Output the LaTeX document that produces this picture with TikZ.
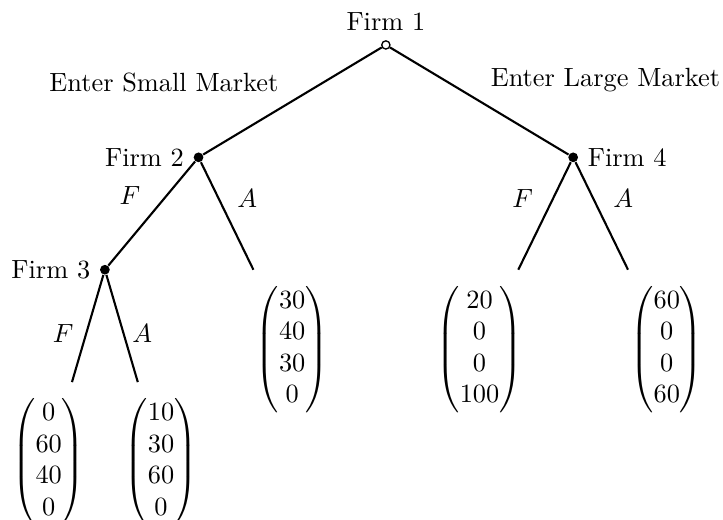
\documentclass[tikz,border=0pt]{standalone}
\usepackage{amsmath}
\usetikzlibrary{positioning}
\tikzset{
  root/.style={circle,draw,fill=white,line width=0.5pt,inner sep=0pt,minimum size=1.1mm},
  firm/.style={circle,fill,inner sep=0pt,minimum size=1.3mm},
  payoff/.style={anchor=north,inner xsep=3pt,inner ysep=6pt},
  branch/.style={line width=0.8pt},
  act/.style={inner sep=3pt},
}

\begin{document}
\begin{tikzpicture}
  \useasboundingbox (-5.15,-6.33) rectangle (4.5,0.6);
  % decision nodes
  \node[root,label=above:{Firm 1}] (f1) at (0,0) {};
  \node[firm,label=left:{Firm 2}] (f2) at (-2.5,-1.5) {};
  \node[firm,label=right:{Firm 4}] (f4) at (2.5,-1.5) {};
  \node[firm,label=left:{Firm 3}] (f3) at (-3.75,-3) {};
  % payoffs
  \node[payoff] (p2a) at (-1.25,-3) {$\begin{pmatrix}30\\40\\30\\0\end{pmatrix}$};
  \node[payoff] (p4f) at (1.25,-3) {$\begin{pmatrix}20\\0\\0\\100\end{pmatrix}$};
  \node[payoff] (p4a) at (3.75,-3) {$\begin{pmatrix}60\\0\\0\\60\end{pmatrix}$};
  \node[payoff] (p3f) at (-4.5,-4.5) {$\begin{pmatrix}0\\60\\40\\0\end{pmatrix}$};
  \node[payoff] (p3a) at (-3,-4.5) {$\begin{pmatrix}10\\30\\60\\0\end{pmatrix}$};
  % branches
  \draw[branch] (f1) -- node[act,above left,xshift=-2pt]{Enter Small Market} (f2);
  \draw[branch] (f1) -- node[act,above right,xshift=1pt]{Enter Large Market} (f4);
  \draw[branch] (f2) -- node[act,above left,xshift=-1pt]{$F$} (f3);
  \draw[branch] (f2) -- node[act,above right,xshift=0.5pt]{$A$} (p2a);
  \draw[branch] (f4) -- node[act,above left,xshift=-1pt]{$F$} (p4f);
  \draw[branch] (f4) -- node[act,above right,xshift=1pt]{$A$} (p4a);
  \draw[branch] (f3) -- node[act,left,xshift=-2pt,yshift=-2pt]{$F$} (p3f);
  \draw[branch] (f3) -- node[act,right,xshift=0.5pt,yshift=-2pt]{$A$} (p3a);
\end{tikzpicture}
\end{document}
